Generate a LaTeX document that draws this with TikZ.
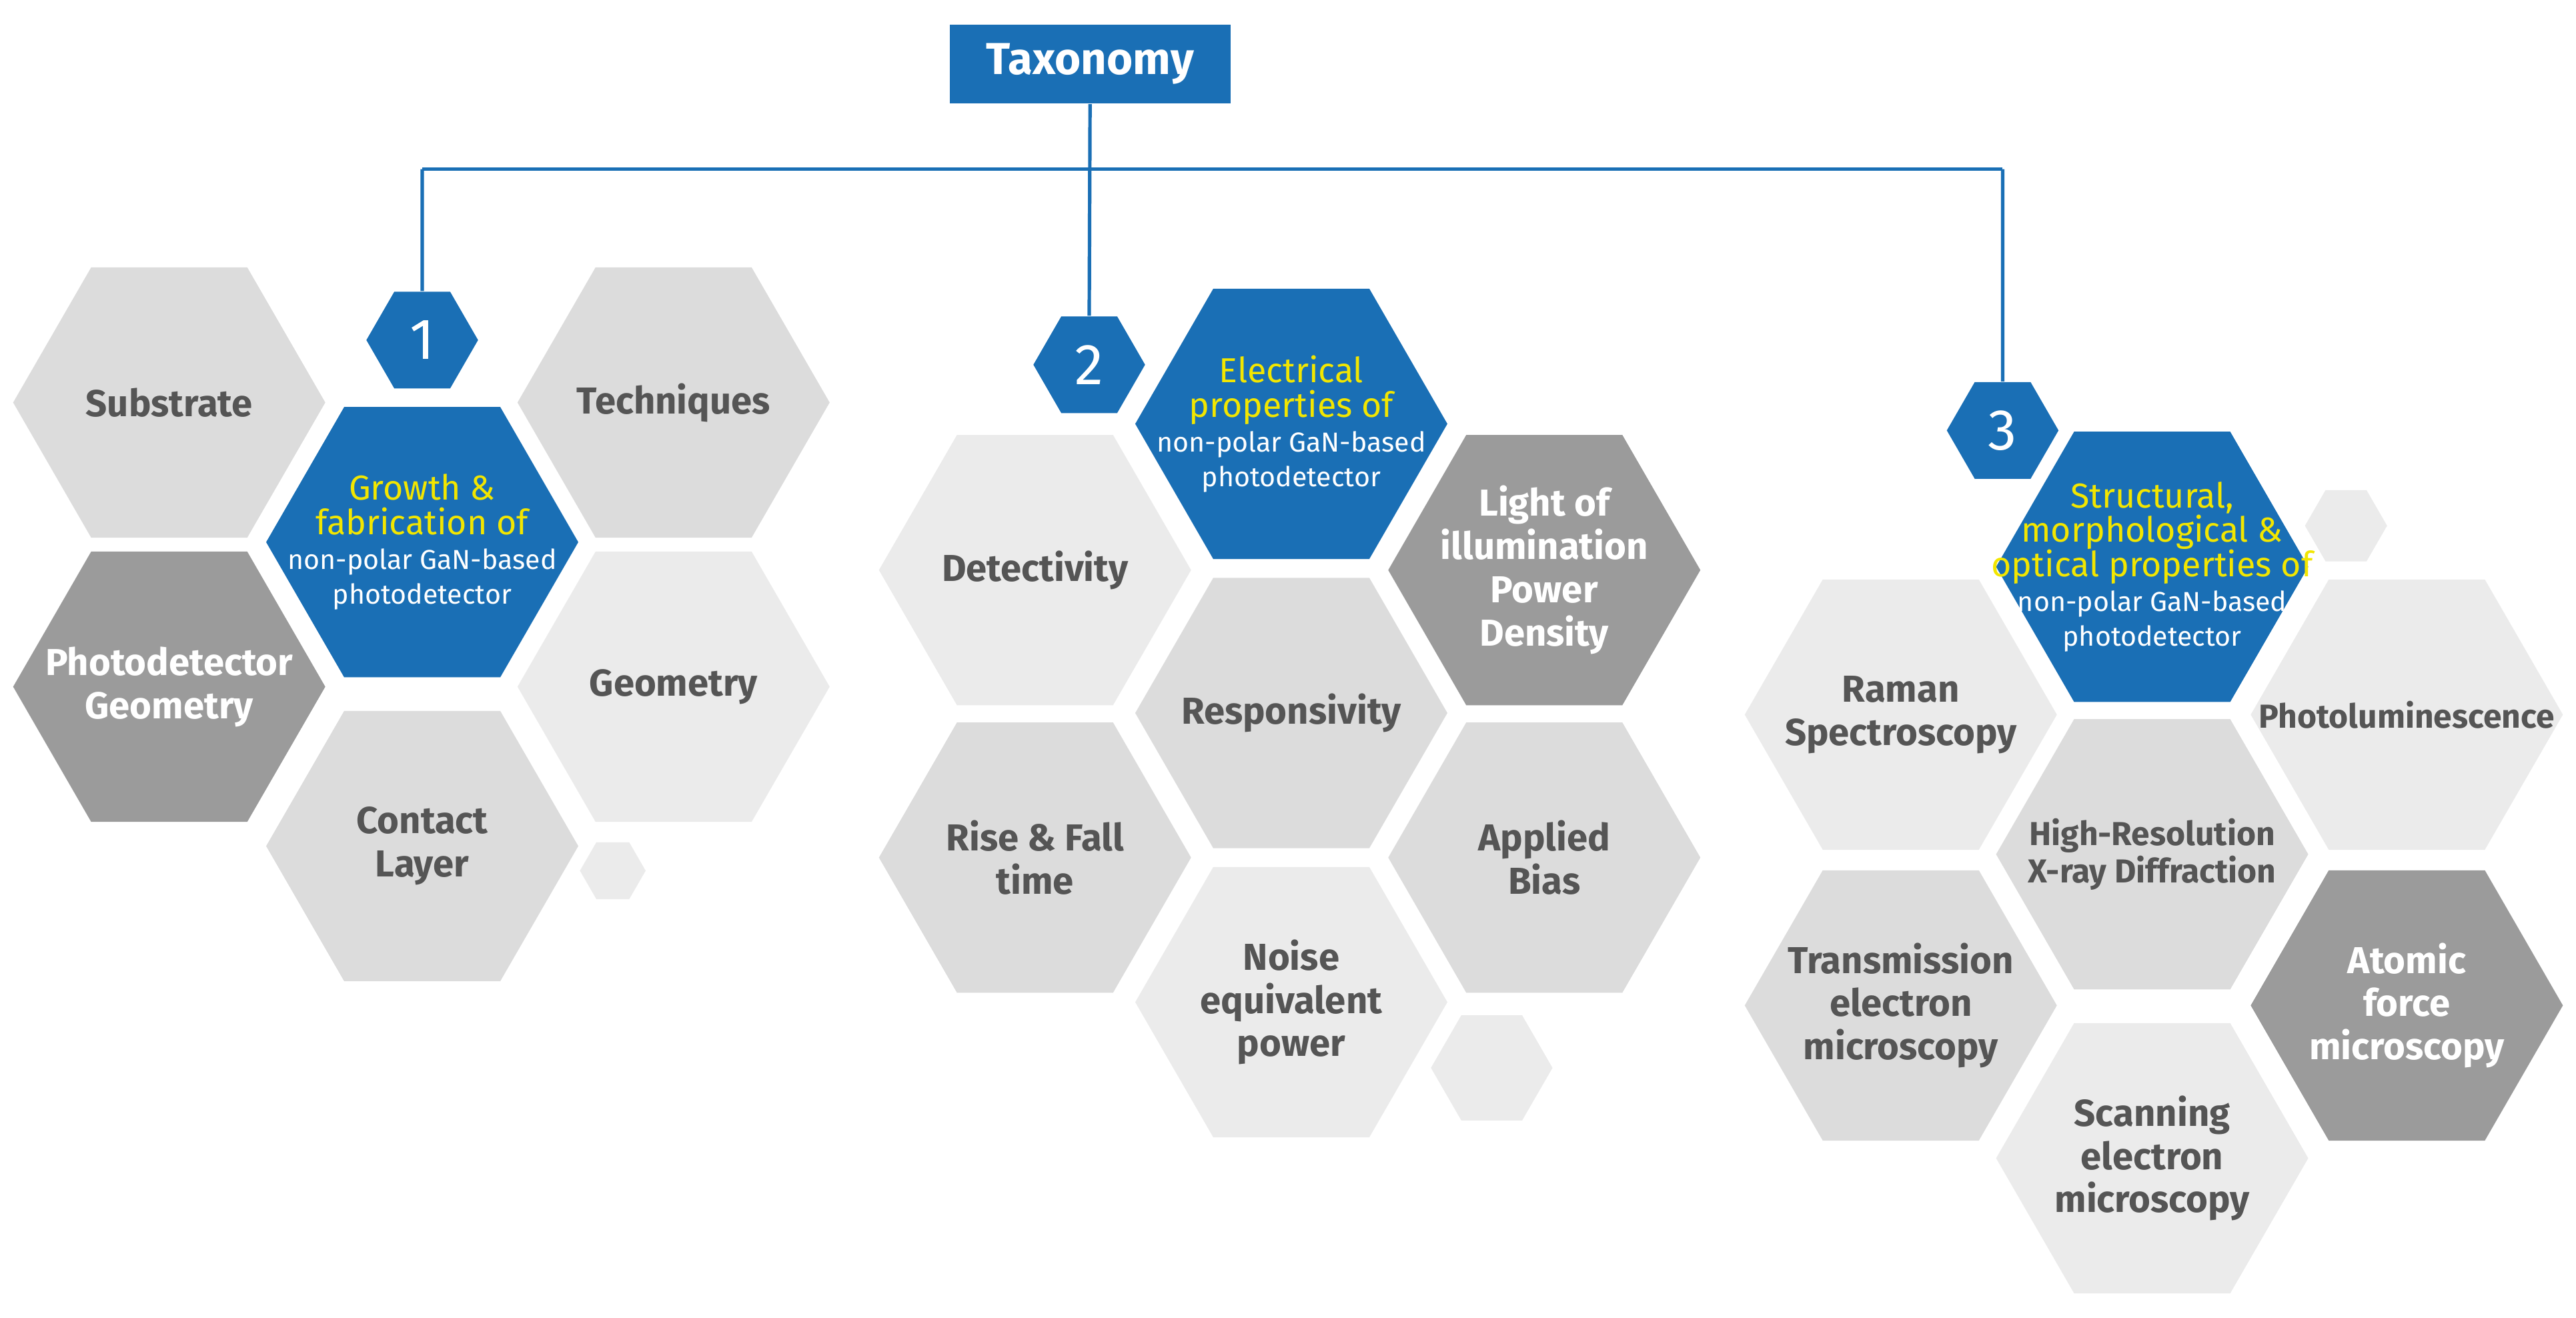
\documentclass[tikz,border=0pt]{standalone}
\usepackage{fontspec}
\setmainfont{Fira Sans}
\usetikzlibrary{shapes.geometric}
\definecolor{tblue}{HTML}{1A6FB5}
\definecolor{tyel}{HTML}{F2E600}
\definecolor{lg}{HTML}{DCDCDC}
\definecolor{vlg}{HTML}{EBEBEB}
\definecolor{dg}{HTML}{9B9B9B}
\definecolor{tx}{HTML}{555555}
\newcommand\hexg[5]{\fill[#5] (#2,#3) +(0:#4) -- +(60:#4) -- +(120:#4) -- +(180:#4) -- +(240:#4) -- +(300:#4) -- cycle;
  \coordinate (#1) at (#2,#3);}
\newcommand\yl[1]{\textcolor{tyel}{\fontsize{12}{13}\selectfont #1}}
\begin{document}
\begin{tikzpicture}[x=0.02cm,y=-0.02cm,
  txt/.style={align=center,inner sep=0pt,font=\fontsize{13}{15}\selectfont\bfseries},
  dtx/.style={txt,text=tx},
  wtx/.style={txt,text=white},
  btx/.style={align=center,inner sep=0pt,text=white,font=\fontsize{9.5}{12}\selectfont},
  num/.style={regular polygon,regular polygon sides=6,minimum size=1.36cm,inner sep=0pt,fill=tblue,text=white,font=\fontsize{20}{20}\selectfont},
  link/.style={draw=tblue,line width=1.2pt}]
\useasboundingbox (0,0) rectangle (1568,802);
\node[fill=tblue,text=white,minimum width=3.42cm,minimum height=0.96cm,font=\fontsize{15.5}{16}\selectfont\bfseries] (tax) at (663.5,39) {Taxonomy};
% group 1
\hexg{h1}{103}{245}{95}{lg}\node[dtx] (sub) at (h1) {Substrate};
\hexg{h2}{410}{245}{95}{lg}\node[dtx] (tec) at (h2) {Techniques};
\hexg{h3}{257}{330}{95}{tblue}\node[btx] (g1) at (h3) {\yl{Growth \&}\\\yl{fabrication of}\\non-polar GaN-based\\photodetector};
\hexg{h4}{103}{418}{95}{dg}\node[wtx] (pg) at (h4) {Photodetector\\Geometry};
\hexg{h5}{410}{418}{95}{vlg}\node[dtx] (geo) at (h5) {Geometry};
\hexg{h6}{257}{515}{95}{lg}\node[dtx] (cl) at (h6) {Contact\\Layer};
\hexg{s1}{373}{530}{20}{vlg}
\node[num] (n1) at (257,207) {1};
% group 2
\hexg{h7}{786}{258}{95}{tblue}\node[btx] (g2) at (h7) {\yl{Electrical}\\\yl{properties of}\\non-polar GaN-based\\photodetector};
\hexg{h8}{630}{347}{95}{vlg}\node[dtx] (det) at (h8) {Detectivity};
\hexg{h9}{940}{347}{95}{dg}\node[wtx] (lip) at (h9) {Light of\\illumination\\Power\\Density};
\hexg{h10}{786}{434}{95}{lg}\node[dtx] (res) at (h10) {Responsivity};
\hexg{h11}{630}{522}{95}{lg}\node[dtx] (rf) at (h11) {Rise \& Fall\\time};
\hexg{h12}{940}{522}{95}{lg}\node[dtx] (ab) at (h12) {Applied\\Bias};
\hexg{h13}{786}{610}{95}{vlg}\node[dtx] (nep) at (h13) {Noise\\equivalent\\power};
\hexg{s2}{908}{650}{37}{vlg}
\node[num] (n2) at (663,222) {2};
% group 3
\hexg{h14}{1310}{345}{95}{tblue}\node[btx] (g3) at (h14) {\yl{Structural,}\\\yl{morphological \&}\\\yl{optical properties of}\\non-polar GaN-based\\photodetector};
\hexg{h15}{1157}{435}{95}{vlg}\node[dtx] (ram) at (h15) {Raman\\Spectroscopy};
\hexg{h16}{1465}{435}{95}{vlg}\node[dtx,font=\fontsize{11.5}{13}\selectfont\bfseries] (pl) at (h16) {Photoluminescence};
\hexg{h17}{1310}{520}{95}{lg}\node[dtx,font=\fontsize{11.5}{13}\selectfont\bfseries] (xrd) at (h17) {High-Resolution\\X-ray Diffraction};
\hexg{h18}{1157}{612}{95}{lg}\node[dtx] (tem) at (h18) {Transmission\\electron\\microscopy};
\hexg{h19}{1465}{612}{95}{dg}\node[wtx] (afm) at (h19) {Atomic\\force\\microscopy};
\hexg{h20}{1310}{705}{95}{vlg}\node[dtx] (sem) at (h20) {Scanning\\electron\\microscopy};
\hexg{s3}{1428}{320}{25}{vlg}
\node[num] (n3) at (1219,262) {3};
% connectors
\coordinate (j1) at (257,103);
\coordinate (j3) at (1219,103);
\draw[link] (tax.south) -- (n2.north);
\draw[link] (j1) -- (j3);
\draw[link] (j1) -- (n1.north);
\draw[link] (j3) -- (n3.north);
\end{tikzpicture}
\end{document}
